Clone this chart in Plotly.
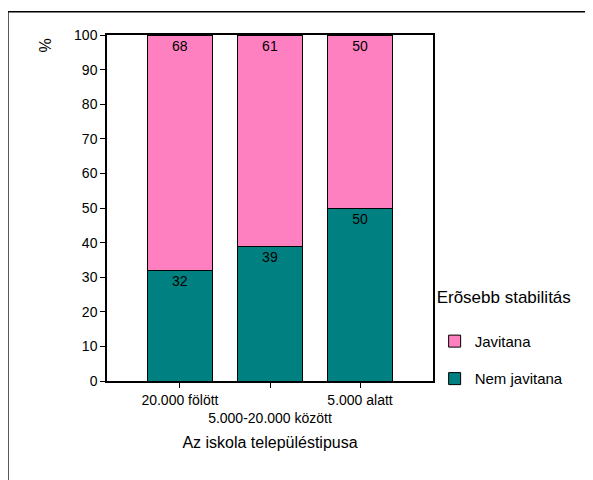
import plotly.graph_objects as go

categories = ["20.000 fölött", "5.000-20.000 között", "5.000 alatt"]
tick_labels = ["20.000 fölött", "<br>5.000-20.000 között", "5.000 alatt"]
nem_javitana = [32, 39, 50]
javitana = [68, 61, 50]

FONT = "Liberation Sans, Arial, sans-serif"

fig = go.Figure()
fig.add_trace(go.Bar(
    x=categories, y=nem_javitana, name="Nem javitana",
    marker=dict(color="#008080", line=dict(color="black", width=1)),
    text=nem_javitana, textposition="inside", insidetextanchor="end",
    textfont=dict(color="black", size=14), legendgroup="a", legendrank=2,
    width=0.73,
))
fig.add_trace(go.Bar(
    x=categories, y=javitana, name="Javitana",
    marker=dict(color="#FF80C0", line=dict(color="black", width=1)),
    text=javitana, textposition="inside", insidetextanchor="end",
    textfont=dict(color="black", size=14), legendgroup="b", legendrank=1,
    width=0.73,
))

fig.update_layout(
    barmode="stack",
    width=593, height=480,
    margin=dict(l=99, r=168, t=27, b=107),
    paper_bgcolor="white", plot_bgcolor="white",
    font=dict(family=FONT, color="black", size=14),
    showlegend=True,
    legend=dict(
        title=dict(text="Erõsebb stabilitás<br> ", font=dict(size=17)),
        traceorder="grouped", tracegroupgap=15, itemwidth=30,
        x=1.005, xanchor="left", y=0.29, yanchor="top",
        font=dict(size=15), bgcolor="rgba(0,0,0,0)",
    ),
    xaxis=dict(
        range=[-0.81, 2.81], tickmode="array",
        tickvals=categories, ticktext=tick_labels, tickangle=0,
        ticks="outside", ticklen=5, tickcolor="black",
        showline=True, linecolor="black", linewidth=1.5, mirror=True,
        tickfont=dict(size=14),
        title=dict(text="Az iskola településtipusa", font=dict(size=16), standoff=12),
    ),
    yaxis=dict(
        range=[0, 100], dtick=10, ticks="outside", ticklen=5, tickcolor="black",
        showline=True, linecolor="black", linewidth=1.5, mirror=True,
        showgrid=False, zeroline=False, tickfont=dict(size=14),
    ),
    annotations=[dict(
        text="%", textangle=-90, xref="paper", yref="paper",
        x=-0.221, y=0.997, showarrow=False, font=dict(size=16),
    )],
    shapes=[dict(
        type="rect", xref="paper", yref="paper",
        x0=-0.304, y0=-1, x1=2, y1=1.067,
        line=dict(color="black", width=1.5), fillcolor="rgba(0,0,0,0)",
        layer="below",
    )],
)

fig.write_html("out.html")
